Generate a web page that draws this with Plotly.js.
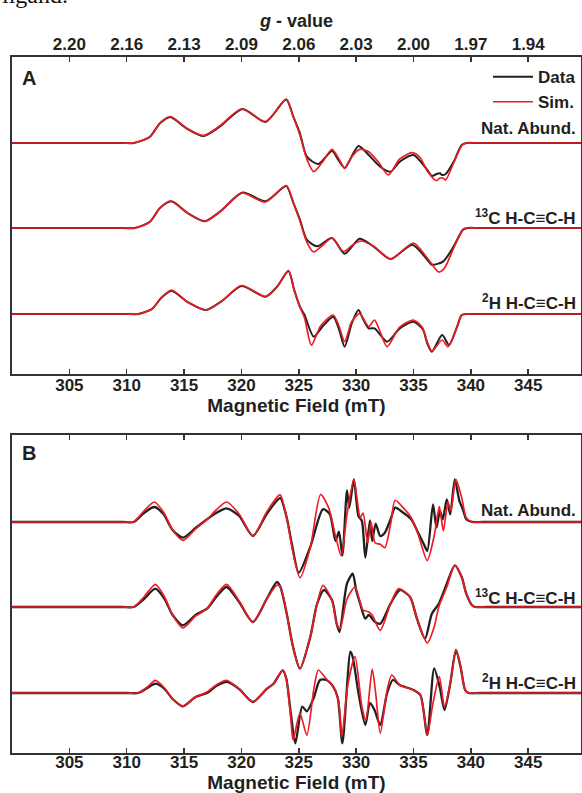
<!DOCTYPE html>
<html>
<head>
<meta charset="utf-8">
<script src="https://cdn.plot.ly/plotly-3.0.1.min.js"></script>
<style>
  html, body { margin: 0; padding: 0; background: #fff; }
  #chart { width: 582px; height: 793px; }
</style>
</head>
<body>
<div id="chart"></div>
<script>
// ---- axis ticks ----
const fieldTicks = [305, 310, 315, 320, 325, 330, 335, 340, 345];
const gLabels = ['2.20', '2.16', '2.13', '2.09', '2.06', '2.03', '2.00', '1.97', '1.94'];
const sampleNames = ['Nat. Abund.', '<sup>13</sup>C H-C≡C-H', '<sup>2</sup>H H-C≡C-H'];

// ---- Panel A: derivative spectra (field in mT, amplitude in arb. units) ----
const aNatDataB = [300, 305, 309.6, 310.6, 312.0, 312.9, 313.8, 315.2, 316.7, 318.1, 320.1, 322.1, 323.9, 324.5, 325.1, 325.7, 326.7, 327.9, 328.45, 329.0, 330.2, 331.1, 332.1, 333.0, 333.8, 335.0, 336.2, 336.6, 337.0, 337.3, 337.5, 337.8, 338.5, 339.2, 339.6, 340.6, 345, 349.6];
const aNatDataY = [0, 0, 0, 0, 6, 19.7, 26, 14.7, 7, 16.3, 34, 21, 43.5, 27, 9.7, -13.7, -21, -8, -17, -25, -3, -12, -23.7, -28.7, -18.7, -12, -27, -33, -31, -30.3, -32, -31, -18.7, -2, 0, 0, 0, 0];
const aNatSimB = [300, 305, 309.6, 310.6, 312.0, 312.9, 313.8, 315.2, 316.7, 318.1, 320.0, 322.1, 323.9, 324.5, 325.1, 325.7, 326.3, 327.0, 327.9, 328.5, 329.0, 329.6, 330.3, 331.1, 332.0, 332.8, 333.8, 334.9, 335.6, 336.2, 337.0, 337.3, 337.6, 337.8, 338.5, 339.2, 339.6, 340.6, 345, 349.6];
const aNatSimY = [0, 0, 0, 0, 6, 20, 26.5, 15, 7.5, 17, 34, 21.5, 44, 27, 8, -16, -28.7, -20, -6.3, -16, -25.3, -14, -6.3, -8.7, -20, -32, -16, -9.7, -15, -28, -37.7, -35, -35.3, -37, -20, -2.5, 0, 0, 0, 0];

const aC13DataB = [300, 305, 309.7, 310.7, 312.0, 312.9, 313.9, 315.3, 316.8, 318.2, 320.1, 322.1, 323.9, 324.5, 325.1, 325.7, 326.6, 327.9, 329.0, 330.3, 331.5, 333.0, 334.9, 336.2, 336.6, 337.6, 338.5, 339.3, 339.7, 340.7, 345, 349.6];
const aC13DataY = [0, 0, 0, 0, 6, 20, 26.7, 15, 6.7, 17, 35.6, 26.7, 42, 26, 8.3, -11.7, -18.3, -10, -25.7, -10.7, -18.3, -31, -16.7, -31.7, -36.7, -33.3, -18.3, -1.7, 0, 0, 0, 0];
const aC13SimB = [300, 305, 309.7, 310.7, 312.0, 312.9, 313.8, 315.3, 316.8, 318.2, 320.0, 322.1, 323.9, 324.5, 325.1, 325.7, 326.3, 327.0, 327.9, 328.9, 329.7, 330.4, 331.5, 333.0, 335.0, 336.2, 337.2, 337.7, 338.5, 339.3, 339.7, 340.7, 345, 349.6];
const aC13SimY = [0, 0, 0, 0, 6, 20, 27, 15, 6.7, 17, 35, 26, 42.5, 26, 7, -14, -24, -18, -10, -23.5, -17, -13, -18, -31, -15, -30, -44, -40, -20, -2, 0, 0, 0, 0];

const aH2DataB = [300, 305, 310.0, 311.0, 312.2, 313.0, 313.9, 315.3, 316.9, 318.3, 320.0, 322.1, 323.1, 324.1, 324.6, 325.1, 325.5, 326.3, 327.1, 328.0, 328.5, 329.0, 329.6, 330.2, 330.6, 331.1, 331.6, 332.7, 333.8, 335.0, 335.8, 336.2, 336.6, 337.5, 338.1, 338.8, 339.2, 339.7, 340.7, 345, 349.6];
const aH2DataY = [0, 0, 0, 0, 5, 16, 23.3, 12, 4, 13, 28, 17.3, 27.3, 43, 24, 7.3, -1, -22.7, -12, -2.7, -15, -32.7, -10, 4, -5, -14.3, -14.3, -27.7, -14.3, -7.7, -15, -29.3, -37.7, -21, -31, -12.7, -1, 0, 0, 0, 0];
const aH2SimB = [300, 305, 310.0, 311.0, 312.2, 313.0, 313.9, 315.3, 316.9, 318.3, 320.0, 322.1, 323.1, 324.1, 324.6, 325.1, 325.5, 326.1, 326.9, 328.0, 328.5, 329.0, 329.6, 330.3, 330.7, 331.1, 331.6, 332.0, 332.7, 333.8, 335.0, 335.8, 336.2, 336.6, 337.5, 338.0, 338.8, 339.2, 339.7, 340.7, 345, 349.6];
const aH2SimY = [0, 0, 0, 0, 5, 16, 24, 12, 4, 13, 28.5, 17.5, 27, 43.5, 24, 7, -4, -31, -12, -1, -12, -27.7, -8, 0.7, -6, -12.7, -6, -15, -32.7, -13, -6, -14, -28, -37, -26, -32.7, -12.7, -1, 0, 0, 0, 0];

// ---- Panel B: derivative spectra ----
const bNatDataB = [300, 305, 309.6, 310.6, 311.5, 312.4, 313.2, 314.0, 314.9, 316.0, 317.0, 317.8, 318.7, 319.8, 321.0, 322.2, 323.2, 323.4, 323.95, 324.4, 325.0, 326.0, 327.1, 327.7, 328.2, 328.5, 328.8, 329.2, 329.4, 329.8, 330.2, 330.5, 330.8, 331.2, 331.4, 331.7, 332.1, 332.5, 333.0, 333.4, 334.1, 334.8, 335.4, 335.9, 336.2, 336.7, 337.0, 337.3, 337.55, 337.9, 338.2, 338.6, 339.0, 339.3, 339.6, 340.1, 341.0, 345, 349.6];
const bNatDataY = [0, 0, 0, 0, 9, 15, 8, -8, -15.7, -6, 2.7, 9, 13.7, 6, -14, 8, 22.7, 24, 4.3, -22.3, -50.7, -25, 12.7, 8, -19, -9.7, -33.3, 31.7, 14.3, 42.7, 6, 1, -35.7, 1.7, -19, -1.7, -14, -10.7, 2.7, 14.3, 9.3, 2.7, -10.7, -22.3, -29, 17.7, -5.7, 11, 2.7, 22.7, 7.7, 42.7, 21, 12.7, 2.7, 0, 0, 0, 0];
const bNatSimB = [300, 305, 309.6, 310.6, 311.5, 312.4, 313.2, 314.0, 314.9, 316.0, 317.0, 317.8, 318.7, 319.8, 321.0, 322.2, 323.2, 323.4, 323.95, 324.4, 325.1, 326.0, 326.9, 327.6, 328.2, 328.7, 329.2, 329.8, 330.1, 330.35, 330.6, 331.0, 331.3, 331.65, 332.1, 332.5, 333.0, 333.4, 334.1, 334.8, 335.4, 336.2, 336.8, 337.25, 337.6, 338.0, 338.25, 338.7, 339.2, 339.6, 340.1, 341.0, 345, 349.6];
const bNatSimY = [0, 0, 0, 0, 11, 20, 10, -8, -18.3, -7, 2.7, 12, 20, 8, -14, 10, 26, 27, 4.3, -25, -55.7, -25.7, 27.5, 14.3, -14, -34, 7.7, 42.7, 21, 4.3, 9, -20.7, -0.7, -20.7, -22.3, -25.7, -2.3, 21.7, 14.3, 4.3, -12.3, -38.5, -14, 15.5, -9, 20, 11, 42.7, 24.3, 4.3, 0, 0, 0, 0];

const bC13DataB = [300, 305, 309.6, 310.6, 311.5, 312.5, 313.3, 314.0, 314.9, 316.0, 317.0, 317.8, 318.7, 319.8, 321.0, 322.2, 323.1, 323.4, 323.95, 324.5, 325.1, 326.0, 326.6, 327.2, 327.9, 328.3, 328.55, 329.2, 329.7, 330.0, 330.35, 330.8, 331.1, 331.65, 332.1, 333.0, 333.8, 334.7, 335.3, 336.0, 336.6, 337.2, 337.9, 338.6, 339.2, 339.6, 340.1, 340.4, 341.4, 345, 349.6];
const bC13DataY = [0, 0, 0, 0, 8, 18.3, 8, -8, -18.3, -8, -1.7, 10, 20, 5, -15, 8, 25, 20, -6.7, -40, -61.7, -30, 3.3, 17, 6.7, -16.7, -25, 23.3, 33.3, 17, 3.3, -11.7, -8, -15, -16.7, 3.3, 17, 10, -11.7, -31.7, -6.7, 3.3, 23.3, 41.7, 30, 13.3, 1.7, 0, 0, 0, 0];
const bC13SimB = [300, 305, 309.6, 310.6, 311.5, 312.5, 313.3, 314.0, 314.9, 316.0, 317.0, 317.8, 318.7, 319.8, 321.0, 322.2, 323.1, 323.4, 323.95, 324.5, 325.1, 326.0, 326.6, 327.1, 327.9, 328.3, 328.6, 329.2, 329.9, 330.3, 330.6, 331.1, 331.4, 332.1, 333.0, 333.7, 334.7, 335.3, 336.2, 336.8, 337.2, 337.9, 338.6, 339.2, 339.6, 340.1, 340.4, 341.4, 345, 349.6];
const bC13SimY = [0, 0, 0, 0, 10, 22.7, 10, -8, -21, -9, -1.7, 12, 22.7, 6, -15, 8, 21.7, 20, -6.7, -40, -61.7, -30, 3.3, 21.7, 6.7, -16.7, -21.7, 8, 20, 6.7, -3, -5, -8, -23.3, 3.3, 18.3, 10, -11.7, -36, -20, 0, 20, 41.7, 30, 13.3, 1.7, 0, 0, 0, 0];

const bH2DataB = [300, 305, 310.0, 311.0, 311.8, 312.5, 313.3, 314.0, 314.9, 316.0, 317.0, 317.8, 318.8, 319.8, 321.0, 322.2, 322.8, 323.6, 323.9, 324.3, 324.7, 325.3, 325.7, 326.3, 326.85, 327.4, 328.0, 328.4, 328.8, 329.5, 329.7, 330.2, 330.8, 331.2, 331.6, 332.1, 332.7, 333.2, 333.8, 335.0, 335.6, 336.2, 336.8, 337.3, 337.7, 338.2, 338.7, 339.1, 339.5, 339.8, 340.8, 345, 349.6];
const bH2DataY = [0, 0, 0, 0, 5, 9.3, 4, -6, -13.3, -4, 0, 7, 11, 4, -9, 4, 9.3, 22.7, 15, -20, -50.3, -13.7, -18.3, -5, 13, 13, 6.3, -5, -50.3, 41.3, 36, 0, -32, -10, -17, -32, 0, 13, 8, 3, -2, -42, 24.7, 5, -17, 9.3, 43, 26.3, 3, 0, 0, 0, 0];
const bH2SimB = [300, 305, 310.0, 311.0, 311.8, 312.5, 313.3, 314.0, 314.9, 316.0, 317.0, 317.8, 318.7, 319.8, 321.0, 322.2, 322.8, 323.6, 323.9, 324.3, 324.5, 325.1, 325.7, 326.3, 326.7, 327.4, 328.0, 328.45, 328.75, 329.3, 329.9, 330.5, 330.85, 331.4, 331.7, 332.1, 332.7, 333.1, 333.8, 335.0, 335.6, 336.2, 336.7, 337.25, 337.7, 338.2, 338.7, 339.1, 339.5, 339.8, 340.8, 345, 349.6];
const bH2SimY = [0, 0, 0, 0, 6, 12.7, 5, -6, -13.3, -4, 1, 8, 12.7, 4, -9, 4, 9.3, 22.7, 15, -25, -47, -20.3, -42.3, 3, 23, 14, 6.3, -7, -43.7, 10, 36.3, -13.7, -27, 24, 0, -40.3, 3, 18, 8, 3, -2, -42, -10, 16.3, -14, 9.3, 43, 26.3, 3, 0, 0, 0, 0];

// ---- drawing ----
const DATA_COLOR = '#231f20';
const SIM_COLOR = '#ed1c24';
const AXIS_COLOR = '#333333';
const INK = '#231f20';
const FONT = 'Liberation Sans, Arial, sans-serif';

// vertical stacking of the three samples inside each panel
const stackOffsets = [231, 146, 60];

const panelA = [[aNatDataB, aNatDataY, aNatSimB, aNatSimY],
                [aC13DataB, aC13DataY, aC13SimB, aC13SimY],
                [aH2DataB, aH2DataY, aH2SimB, aH2SimY]];
const panelB = [[bNatDataB, bNatDataY, bNatSimB, bNatSimY],
                [bC13DataB, bC13DataY, bC13SimB, bC13SimY],
                [bH2DataB, bH2DataY, bH2SimB, bH2SimY]];

function spectrum(xs, ys, off, xa, ya, color, width, name, showInLegend) {
  return {
    x: xs, y: ys.map(v => v + off), xaxis: xa, yaxis: ya,
    type: 'scatter', mode: 'lines', name: name,
    line: { color: color, width: width, shape: 'spline', smoothing: 0.7 },
    showlegend: showInLegend, legendgroup: name, hoverinfo: 'skip'
  };
}

const traces = [];
[[panelA, 'x', 'y', 2.0], [panelB, 'x3', 'y3', 2.3]].forEach(([panel, xa, ya, dw], pi) => {
  panel.forEach((s, i) => {
    traces.push(spectrum(s[0], s[1], stackOffsets[i], xa, ya, DATA_COLOR, dw, 'Data', pi === 0 && i === 0));
  });
  panel.forEach((s, i) => {
    traces.push(spectrum(s[2], s[3], stackOffsets[i], xa, ya, SIM_COLOR, 1.7, 'Sim.', pi === 0 && i === 0));
  });
});
// keeps the g-value axis attached to panel A
traces.push({ x: [], y: [], xaxis: 'x2', yaxis: 'y', type: 'scatter', showlegend: false, hoverinfo: 'skip' });

const tickFont = { family: FONT, size: 17, color: INK, weight: 'bold' };

function fieldAxis(anchor, labelShift, titleGap) {
  return {
    anchor: anchor, domain: [0, 1], range: [300, 349.6],
    tickmode: 'array', tickvals: fieldTicks,
    ticks: 'inside', ticklen: 5, tickwidth: 1.5, tickcolor: AXIS_COLOR,
    ticklabelstandoff: labelShift,
    showline: true, linewidth: 2, linecolor: AXIS_COLOR, mirror: 'ticks',
    showgrid: false, zeroline: false, tickfont: tickFont,
    title: { text: 'Magnetic Field (mT)', font: { family: FONT, size: 19, color: INK, weight: 'bold' }, standoff: titleGap }
  };
}

function boxAxis(anchor, domain, top) {
  return {
    anchor: anchor, domain: domain, range: [0, top],
    showline: true, linewidth: 2, linecolor: AXIS_COLOR, mirror: true,
    ticks: '', showticklabels: false, showgrid: false, zeroline: false, fixedrange: true
  };
}

const labelFont = { family: FONT, size: 17, color: INK, weight: 'bold' };
const annotations = [];
const labelLift = [[15, 11, 12], [11, 10, 11]];
['y', 'y3'].forEach((ya, pi) => {
  sampleNames.forEach((name, i) => {
    annotations.push({
      xref: 'paper', x: 0.995, xanchor: 'right', yref: ya, y: stackOffsets[i] + labelLift[pi][i],
      yanchor: 'middle', text: name, showarrow: false, font: labelFont
    });
  });
});
annotations.push({ xref: 'x', x: 301.5, yref: 'y', y: 296, text: 'A', showarrow: false,
  font: { family: FONT, size: 20, color: INK, weight: 'bold' } });
annotations.push({ xref: 'x3', x: 301.5, yref: 'y3', y: 300, text: 'B', showarrow: false,
  font: { family: FONT, size: 20, color: INK, weight: 'bold' } });
// tail of the preceding paragraph on the page
annotations.push({ xref: 'paper', x: -0.0211, xanchor: 'left', yref: 'paper', y: 1.0675, yanchor: 'bottom',
  text: 'ligand.', showarrow: false, font: { family: 'Liberation Serif, Times New Roman, serif', size: 24, color: '#111' } });

const layout = {
  width: 582, height: 793,
  margin: { l: 12, r: 1, t: 57, b: 40 },
  paper_bgcolor: '#ffffff', plot_bgcolor: '#ffffff',
  font: { family: FONT, color: INK },
  showlegend: true,
  legend: {
    x: 1, xanchor: 'right', y: 0.997, yanchor: 'top',
    bgcolor: 'rgba(0,0,0,0)', borderwidth: 0,
    font: { family: FONT, size: 17, color: INK, weight: 'bold' },
    tracegroupgap: 0, itemwidth: 40
  },
  xaxis: fieldAxis('y', -5, 2),
  xaxis2: {
    overlaying: 'x', side: 'top', anchor: 'y', range: [300, 349.6],
    tickmode: 'array', tickvals: fieldTicks, ticktext: gLabels,
    ticks: '', ticklabelstandoff: 3,
    showline: false, showgrid: false, zeroline: false, tickfont: tickFont,
    title: { text: '<i>g</i> - value', font: { family: FONT, size: 18, color: INK, weight: 'bold' }, standoff: 2 }
  },
  yaxis: boxAxis('x', [0.5445, 1], 317),
  xaxis3: fieldAxis('y3', -7, 0),
  yaxis3: boxAxis('x3', [0, 0.4569], 318),
  annotations: annotations
};

Plotly.newPlot('chart', traces, layout, { displayModeBar: false, staticPlot: true });
</script>
</body>
</html>
